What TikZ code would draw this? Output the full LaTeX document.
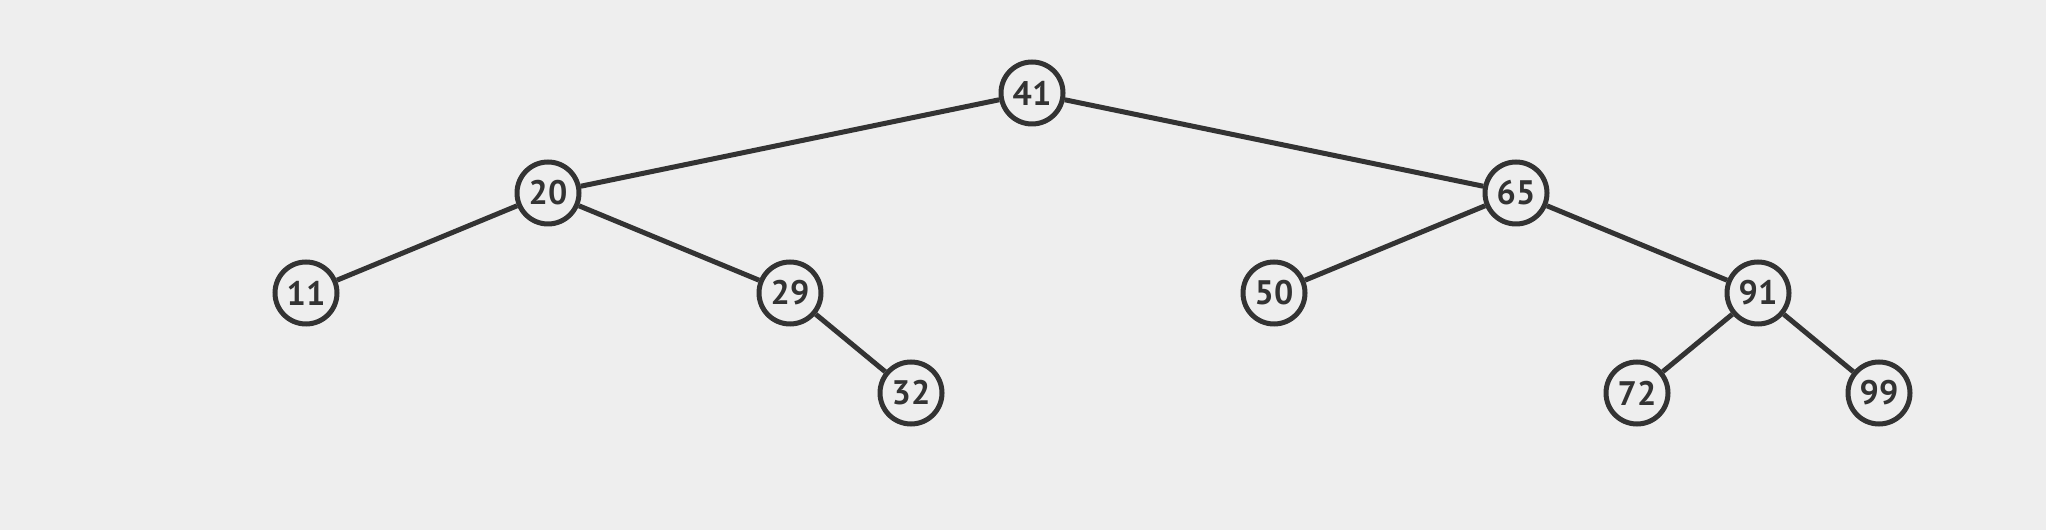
\documentclass[tikz,border=0pt]{standalone}
\usepackage{fontspec}
\setmainfont{PT Sans}
\usepackage{tikz}
\usetikzlibrary{positioning}
\definecolor{bgcol}{HTML}{EEEEEE}
\definecolor{inkcol}{HTML}{333333}

\begin{document}
\begin{tikzpicture}[x=0.5pt,y=0.5pt,-,line width=2.5pt,draw=inkcol]
\tikzstyle{key}=[circle,draw=inkcol,fill=bgcol,line width=2.5pt,minimum size=31pt,inner sep=0pt,text=inkcol,font=\fontsize{17}{17}\selectfont\bfseries]
\fill[bgcol] (0,0) rectangle (2046,530);
\useasboundingbox (0,0) rectangle (2046,530);
\node[key] (41) at (1032,437) {41};
\node[key] (20) at (548,337) {20};
\node[key] (65) at (1516,337) {65};
\node[key] (11) at (306,237) {11};
\node[key] (29) at (790,237) {29};
\node[key] (50) at (1274,237) {50};
\node[key] (91) at (1758,237) {91};
\node[key] (32) at (911,137) {32};
\node[key] (72) at (1637,137) {72};
\node[key] (99) at (1879,137) {99};
\path[draw=inkcol] (41) edge (20)
             edge (65)
          (20) edge (11)
             edge (29)
          (29) edge (32)
          (65) edge (50)
             edge (91)
          (91) edge (72)
             edge (99);
\end{tikzpicture}
\end{document}
